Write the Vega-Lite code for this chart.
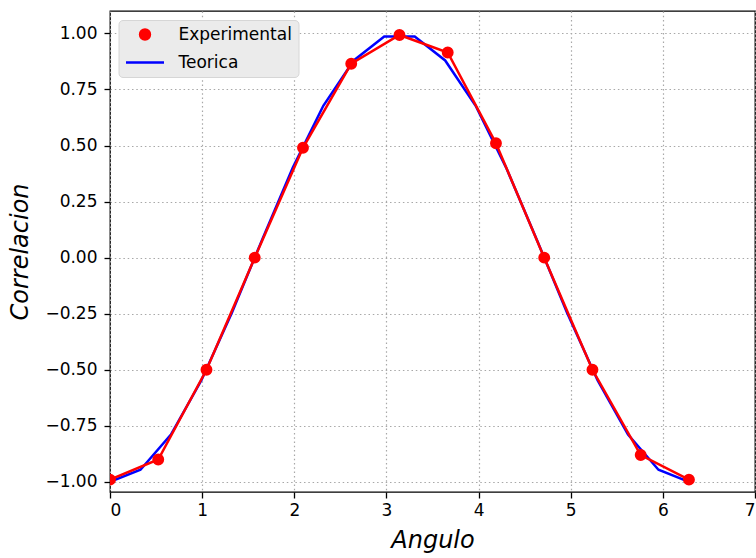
{
  "$schema": "https://vega.github.io/schema/vega-lite/v6.json",
  "width": 645,
  "height": 481,
  "autosize": {"type": "none"},
  "padding": {"left": 110, "top": 11, "right": 1, "bottom": 66},
  "background": "white",
  "config": {
    "view": {"stroke": "black", "strokeWidth": 1.3},
    "font": "DejaVu Sans",
    "axis": {
      "domain": false,
      "grid": true,
      "gridColor": "#a8a8a8",
      "gridDash": [1.5, 2.8],
      "gridWidth": 1.2,
      "tickColor": "black",
      "tickSize": 6,
      "tickWidth": 1.3,
      "labelFont": "DejaVu Sans",
      "labelFontSize": 17,
      "labelColor": "black",
      "titleFont": "DejaVu Sans",
      "titleFontSize": 24,
      "titleFontStyle": "italic",
      "titleFontWeight": "normal",
      "titleColor": "black"
    },
    "legend": {
      "orient": "none", "legendX": 8.5, "legendY": 9, "title": null,
      "fillColor": "#ebebeb", "strokeColor": "#d6d6d6", "cornerRadius": 4,
      "padding": 6, "labelFontSize": 17, "labelFont": "DejaVu Sans", "labelColor": "black",
      "labelOffset": 13, "rowPadding": 10, "symbolSize": 1444, "clipHeight": 17,
      "symbolStrokeWidth": 2.5
    }
  },
  "datasets": {
    "exp": [
      {"x": 0.0, "y": -0.99, "series": "Experimental"},
      {"x": 0.5236, "y": -0.9, "series": "Experimental"},
      {"x": 1.0472, "y": -0.5, "series": "Experimental"},
      {"x": 1.5708, "y": 0.0, "series": "Experimental"},
      {"x": 2.0944, "y": 0.49, "series": "Experimental"},
      {"x": 2.618, "y": 0.865, "series": "Experimental"},
      {"x": 3.1416, "y": 0.993, "series": "Experimental"},
      {"x": 3.6652, "y": 0.915, "series": "Experimental"},
      {"x": 4.1888, "y": 0.51, "series": "Experimental"},
      {"x": 4.7124, "y": 0.0, "series": "Experimental"},
      {"x": 5.236, "y": -0.5, "series": "Experimental"},
      {"x": 5.7596, "y": -0.88, "series": "Experimental"},
      {"x": 6.2832, "y": -0.99, "series": "Experimental"}
    ],
    "teo": [
      {"x": 0.0, "y": -1.0},
      {"x": 0.3307, "y": -0.9458},
      {"x": 0.6614, "y": -0.7891},
      {"x": 0.9921, "y": -0.5469},
      {"x": 1.3228, "y": -0.2455},
      {"x": 1.6535, "y": 0.0826},
      {"x": 1.9842, "y": 0.4017},
      {"x": 2.3149, "y": 0.6773},
      {"x": 2.6456, "y": 0.8795},
      {"x": 2.9762, "y": 0.9864},
      {"x": 3.3069, "y": 0.9864},
      {"x": 3.6376, "y": 0.8795},
      {"x": 3.9683, "y": 0.6773},
      {"x": 4.299, "y": 0.4017},
      {"x": 4.6297, "y": 0.0826},
      {"x": 4.9604, "y": -0.2455},
      {"x": 5.2911, "y": -0.5469},
      {"x": 5.6218, "y": -0.7891},
      {"x": 5.9525, "y": -0.9458},
      {"x": 6.2832, "y": -1.0}
    ]
  },
  "layer": [
    {
      "data": {"name": "teo"},
      "mark": {"type": "line", "color": "#0000ff", "strokeWidth": 2.5, "clip": true},
      "encoding": {
        "x": {"field": "x", "type": "quantitative", "scale": {"domain": [0, 7], "nice": false, "zero": false},
          "axis": {"values": [0, 1, 2, 3, 4, 5, 6, 7], "format": "d", "title": "Angulo", "labelPadding": 4, "titlePadding": 10}},
        "y": {"field": "y", "type": "quantitative", "scale": {"domain": [-1.045, 1.1], "nice": false, "zero": false},
          "axis": {"values": [-1, -0.75, -0.5, -0.25, 0, 0.25, 0.5, 0.75, 1], "format": ".2f", "title": "Correlacion", "labelPadding": 7, "titlePadding": 12}}
      }
    },
    {
      "data": {"name": "exp"},
      "mark": {"type": "line", "color": "#ff0000", "strokeWidth": 2.5, "clip": true},
      "encoding": {
        "x": {"field": "x", "type": "quantitative"},
        "y": {"field": "y", "type": "quantitative"}
      }
    },
    {
      "data": {"name": "exp"},
      "mark": {"type": "point", "filled": true, "opacity": 1, "size": 1444, "strokeWidth": 2, "clip": true},
      "encoding": {
        "x": {"field": "x", "type": "quantitative"},
        "y": {"field": "y", "type": "quantitative"},
        "color": {"field": "series", "type": "nominal",
          "scale": {"domain": ["Experimental", "Teorica"], "range": ["#ff0000", "#0000ff"]}},
        "stroke": {"field": "series", "type": "nominal",
          "scale": {"domain": ["Experimental", "Teorica"], "range": ["#ff0000", "#0000ff"]}},
        "shape": {"field": "series", "type": "nominal",
          "scale": {"domain": ["Experimental", "Teorica"], "range": ["M -0.26,0 A 0.26,0.26 0 1,0 0.26,0 A 0.26,0.26 0 1,0 -0.26,0 Z", "stroke"]}}
      }
    }
  ]
}
